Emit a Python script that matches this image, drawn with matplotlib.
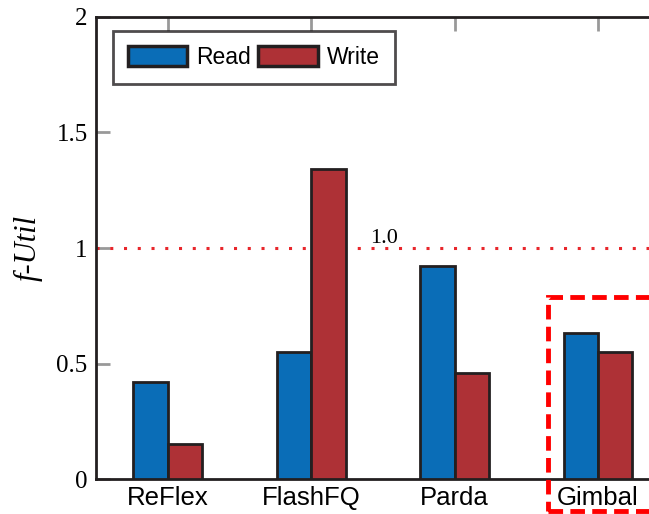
import numpy as np
import matplotlib.pyplot as plt
from matplotlib.patches import Rectangle

systems = ['ReFlex', 'FlashFQ', 'Parda', 'Gimbal']
read_util = [0.42, 0.55, 0.92, 0.63]
write_util = [0.15, 1.34, 0.46, 0.55]

blue = '#0A6DB7'
red = '#AE3136'
edge = '#231F20'

fig = plt.figure(figsize=(6.49, 5.14), dpi=100)
ax = fig.add_axes([0.148, 0.068, 0.884, 0.899])

x = np.arange(len(systems))
w = 0.24
ax.bar(x - w / 2, read_util, w, color=blue, edgecolor=edge, linewidth=2, label='Read', zorder=3)
ax.bar(x + w / 2, write_util, w, color=red, edgecolor=edge, linewidth=2, label='Write', zorder=3)

# reference line at 1.0
ax.axhline(1.0, color='#E8262B', linestyle=(0, (1, 3.5)), linewidth=2.2, zorder=2)
ax.text(1.51, 1.0, '1.0', family='Liberation Serif', fontsize=16, ha='center', va='bottom')

# highlight box around Gimbal
ax.add_patch(Rectangle((2.65, -0.14), 1.2, 0.93, fill=False, edgecolor='#FF0000',
                       linewidth=3.5, linestyle=(0, (3, 1.5)), clip_on=False, zorder=4))

ax.set_xlim(-0.5, 3.5)
ax.set_ylim(0, 2)
ax.set_xticks(x)
ax.set_xticklabels(systems, family='Liberation Sans', fontsize=18.5)
ax.set_yticks([0, 0.5, 1, 1.5, 2])
ax.set_yticklabels(['0', '0.5', '1', '1.5', '2'], family='Liberation Serif', fontsize=18)
ax.tick_params(axis='y', direction='in', length=10, width=2, color='#999999', pad=6)
ax.tick_params(axis='x', bottom=False, top=True, direction='in', length=10, width=2,
               color='#999999', pad=5)
ax.set_ylabel('f-Util', family='Liberation Serif', style='italic', fontsize=22, labelpad=10)

for s in ax.spines.values():
    s.set_linewidth(2)
    s.set_color(edge)

leg = ax.legend(loc='upper left', ncol=2, prop={'family': 'Liberation Sans', 'size': 16.5},
                frameon=True, fancybox=False, handlelength=2.6, handleheight=1.0,
                handletextpad=0.4, columnspacing=0.3, borderpad=0.65, borderaxespad=0,
                bbox_to_anchor=(0.029, 0.97))
leg.get_frame().set_edgecolor(edge)
leg.get_frame().set_linewidth(2)
for p in leg.get_patches():
    p.set_linewidth(2.5)

fig.savefig('out.png', dpi=100)
plt.close('all')
